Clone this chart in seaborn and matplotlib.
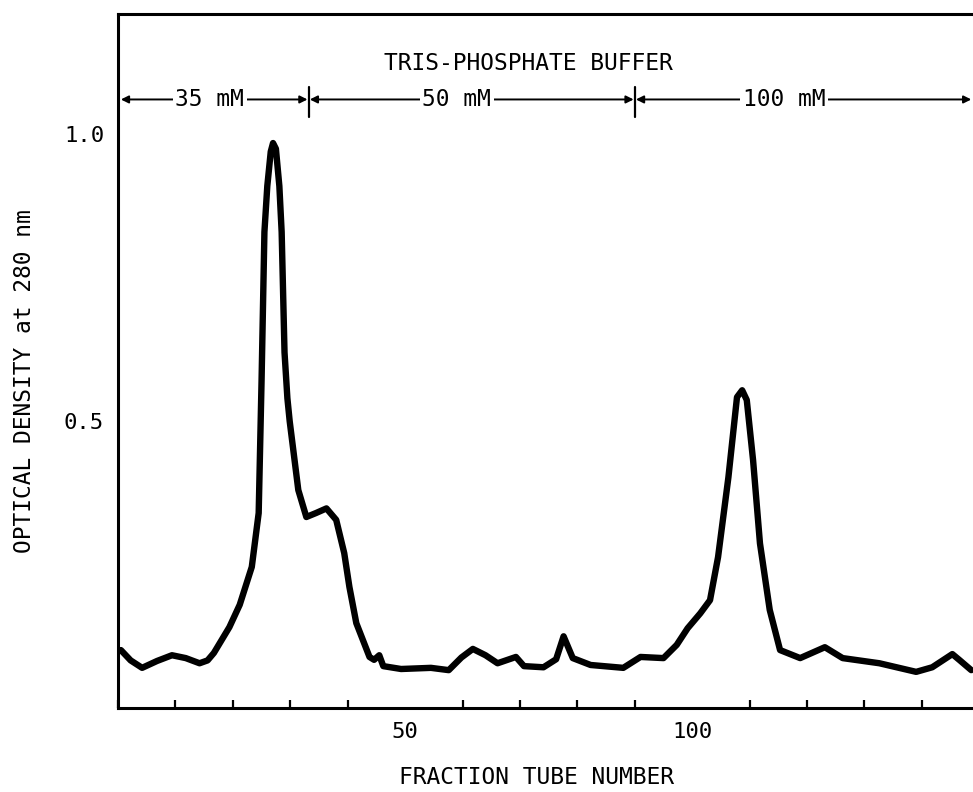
import numpy as np
import pandas as pd
import matplotlib
matplotlib.use("Agg")
import matplotlib.pyplot as plt
from matplotlib.ticker import FixedLocator, MultipleLocator
import seaborn as sns

# values
fraction = [0.5, 2.2, 4.2, 6.8, 9.4, 11.8, 14.2, 15.6, 16.7, 19.4, 21.2, 23.3,
            24.5, 25.0, 25.5, 26.0, 26.6, 27.0, 27.5, 28.1, 28.5, 29.0, 29.5,
            29.9, 31.4, 32.8, 34.5, 36.3, 38.0, 39.4, 40.3, 41.5, 43.8, 44.6,
            45.5, 46.2, 49.3, 54.5, 57.6, 59.8, 61.8, 64.0, 66.1, 69.3, 70.7,
            74.1, 76.3, 77.6, 79.2, 82.3, 88.0, 91.0, 95.0, 97.3, 99.2, 101.4,
            103.1, 104.5, 106.3, 107.8, 108.7, 109.5, 110.6, 111.8, 113.5, 115.3,
            118.8, 123.1, 126.2, 132.6, 139.0, 141.8, 145.3, 146.5, 148.6]
od280 = [0.101, 0.083, 0.070, 0.082, 0.092, 0.087, 0.078, 0.083, 0.096, 0.141,
         0.180, 0.246, 0.34, 0.57, 0.83, 0.91, 0.97, 0.985, 0.975, 0.91, 0.83,
         0.62, 0.54, 0.50, 0.38, 0.333, 0.340, 0.348, 0.328, 0.27, 0.211, 0.148,
         0.089, 0.084, 0.092, 0.073, 0.068, 0.070, 0.066, 0.088, 0.103, 0.092,
         0.078, 0.089, 0.073, 0.071, 0.085, 0.125, 0.087, 0.075, 0.070, 0.089,
         0.087, 0.110, 0.139, 0.165, 0.188, 0.263, 0.402, 0.542, 0.554, 0.537,
         0.432, 0.287, 0.171, 0.101, 0.087, 0.106, 0.087, 0.078, 0.063, 0.071,
         0.094, 0.084, 0.066]

# buffer steps
buffer_labels = ["35 mM", "50 mM", "100 mM"]
buffer_edges = [0.3, 33.2, 90.0, 148.8]
buffer_label_x = [16, 59, 116]

df = pd.DataFrame({"fraction": fraction, "od": od280})

sns.set_style("white")
plt.rcParams['font.family'] = ['DejaVu Sans Mono', 'DejaVu Sans']
plt.rcParams['text.color'] = 'black'
plt.rcParams['axes.labelcolor'] = 'black'

fig = plt.figure(figsize=(9.73, 7.92), dpi=100)
ax = fig.add_axes([118 / 973, 84 / 792, 855 / 973, 694 / 792])

sns.lineplot(data=df, x="fraction", y="od", color="black", linewidth=4.6,
             sort=False, ax=ax, solid_joinstyle="round", solid_capstyle="round")

ax.set_xlim(0, 148.9)
ax.set_ylim(0, 1.21)

ax.spines["right"].set_visible(False)
for s in ["left", "bottom", "top"]:
    ax.spines[s].set_linewidth(2.2)
    ax.spines[s].set_color("black")

ax.xaxis.set_major_locator(FixedLocator([50, 100]))
ax.xaxis.set_minor_locator(MultipleLocator(10))
ax.yaxis.set_major_locator(FixedLocator([0.5, 1.0]))
ax.set_xticklabels(["50", "100"])
ax.set_yticklabels(["0.5", "1.0"])
ax.tick_params(axis="both", which="major", direction="in", length=10, width=2,
               labelsize=16, pad=10, color="black", labelcolor="black")
ax.tick_params(axis="x", which="minor", direction="in", length=6, width=1.6,
               color="black", bottom=True)
ax.tick_params(top=False, right=False, which="both")

ax.set_xlabel("FRACTION TUBE NUMBER", fontsize=16.5)
ax.set_ylabel("OPTICAL DENSITY at 280 nm", fontsize=16.5, va="center")
ax.xaxis.set_label_coords(0.489, -0.084)
ax.yaxis.set_label_coords(-0.109, 0.471)

# buffer annotation
ax.text(71.5, 1.124, "TRIS-PHOSPHATE BUFFER", ha="center", va="center", fontsize=16.5)
arrow_y = 1.061
for i, lab in enumerate(buffer_labels):
    x0, x1 = buffer_edges[i], buffer_edges[i + 1]
    ax.annotate("", xy=(x1 - 0.2, arrow_y), xytext=(x0 + 0.2, arrow_y),
                arrowprops=dict(arrowstyle="<|-|>", color="black", lw=1.4,
                                mutation_scale=11, shrinkA=0, shrinkB=0),
                annotation_clip=False)
    ax.text(buffer_label_x[i], arrow_y, lab, ha="center", va="center", fontsize=16.5,
            bbox=dict(facecolor="white", edgecolor="none", pad=2))
for xe in buffer_edges[1:3]:
    ax.plot([xe, xe], [1.030, 1.082], color="black", lw=1.6)

fig.savefig("out.png", dpi=100)
